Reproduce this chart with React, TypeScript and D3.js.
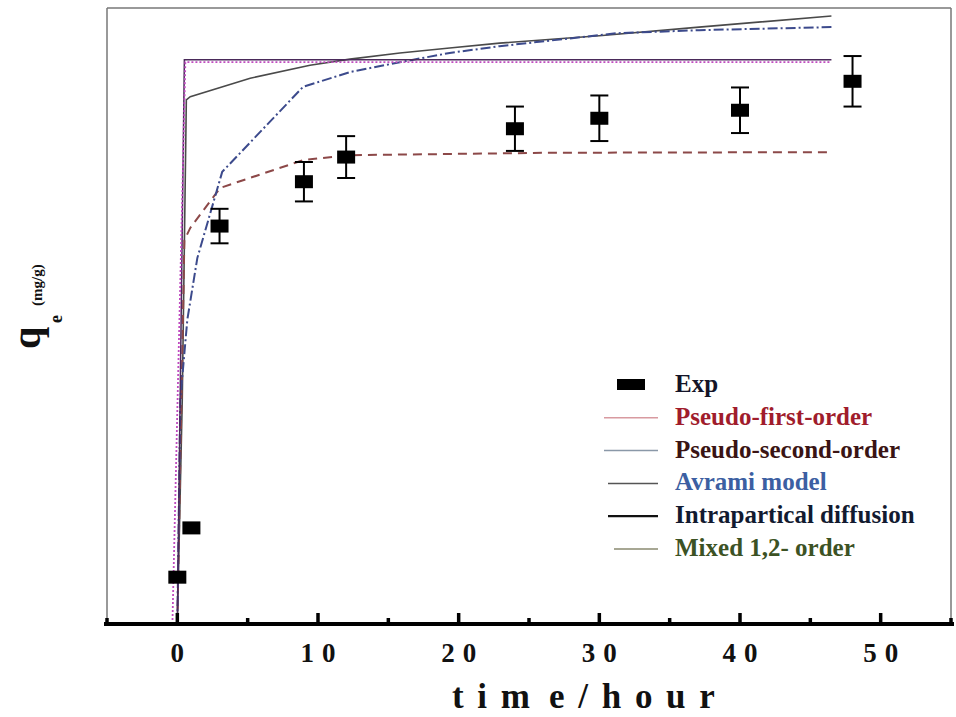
import React from 'react';
import * as d3 from 'd3';

const W = 956;
const H = 717;

// Experimental data (time in hours, q in arbitrary units 0-100)
const expTime = [0, 1, 3, 9, 12, 24, 30, 40, 48];
const expQ = [7.6, 15.6, 64.6, 71.8, 75.8, 80.4, 82.1, 83.4, 88.1];
const expErr = [0, 0, 2.8, 3.2, 3.4, 3.6, 3.7, 3.7, 4.1];

// Model curves
const pfoT = [0, 0.5, 0.92, 3.05, 8.94, 12.06, 26.45, 46.5];
const pfoQ = [0, 62.3, 64.3, 70.8, 75.3, 76.1, 76.5, 76.6];

const psoT = [0, 0.21, 0.71, 1.42, 3.19, 8.94, 12.27, 15.82, 19.36, 22.91, 31.2, 37.09, 46.5];
const psoQ = [0, 36.4, 49.4, 59.4, 73.4, 87.2, 89.6, 91.2, 92.7, 93.8, 95.9, 96.4, 96.9];

const intraT = [0, 0.35, 0.64, 0.92, 5.18, 9.43, 12.27, 15.82, 19.36, 22.91, 30.0, 37.09, 46.5];
const intraQ = [0, 36.4, 85.1, 85.6, 88.6, 90.7, 91.7, 92.7, 93.5, 94.3, 95.5, 96.9, 98.7];

const avramiT = [0, 0.5, 46.5];
const avramiQ = [0, 91.6, 91.6];

const mixedT = [-0.35, 0.57, 46.5];
const mixedQ = [0, 91.2, 91.2];

const xMajorTicks = [0, 10, 20, 30, 40, 50];
const xMinorTicks = [-5, 5, 15, 25, 35, 45, 55];

const legendLabels = ['Exp', 'Pseudo-first-order', 'Pseudo-second-order', 'Avrami model', 'Intrapartical diffusion', 'Mixed 1,2- order'];
const legendTextColors = ['#141428', '#a01c2c', '#3a1414', '#3c5fa2', '#121a30', '#3c5224'];
const legendLineColors = ['#000', '#d89aa0', '#8a98a8', '#555', '#111', '#8a8a70'];

const FONT = '"Liberation Serif", "Times New Roman", serif';

export default function App() {
  const x = d3.scaleLinear().domain([-5, 55]).range([107, 951]);
  const y = d3.scaleLinear().domain([0, 100]).range([624, 8]);

  const mk = (ts: number[], qs: number[]) =>
    d3.line<number>().x((_, i) => x(ts[i])).y((d) => y(d)).curve(d3.curveLinear)(qs) || '';

  return (
    <svg width={W} height={H} style={{ position: 'absolute', left: 0, top: 0, background: '#fff' }} fontFamily={FONT}>
      <rect x={0} y={0} width={W} height={H} fill="#fff" />
      {/* frame */}
      <line x1={107} y1={8} x2={951} y2={8} stroke="#777" strokeWidth={1.5} />
      <line x1={107} y1={8} x2={107} y2={624} stroke="#777" strokeWidth={1.5} />
      <line x1={951} y1={8} x2={951} y2={624} stroke="#777" strokeWidth={1.5} />

      {/* model curves */}
      <path d={mk(intraT, intraQ)} fill="none" stroke="#4a4a4a" strokeWidth={1.6} />
      <path d={mk(pfoT, pfoQ)} fill="none" stroke="#8c4848" strokeWidth={2} strokeDasharray="9 6" />
      <path d={mk(psoT, psoQ)} fill="none" stroke="#3c4a8c" strokeWidth={2} strokeDasharray="10 3 2 3" />
      <path d={mk(avramiT, avramiQ)} fill="none" stroke="#4a2a5a" strokeWidth={1.5} />
      <path d={mk(mixedT, mixedQ)} fill="none" stroke="#c04cc0" strokeWidth={1.8} strokeDasharray="2 2" />

      {/* exp points */}
      {expTime.map((t, i) => (
        <g key={i}>
          {expErr[i] > 0 && (
            <g stroke="#000" strokeWidth={2}>
              <line x1={x(t)} x2={x(t)} y1={y(expQ[i] - expErr[i])} y2={y(expQ[i] + expErr[i])} />
              <line x1={x(t) - 9} x2={x(t) + 9} y1={y(expQ[i] - expErr[i])} y2={y(expQ[i] - expErr[i])} />
              <line x1={x(t) - 9} x2={x(t) + 9} y1={y(expQ[i] + expErr[i])} y2={y(expQ[i] + expErr[i])} />
            </g>
          )}
          <rect x={x(t) - 9} y={y(expQ[i]) - 6.5} width={18} height={13} fill="#000" />
        </g>
      ))}

      {/* x axis */}
      <line x1={104} y1={624} x2={954} y2={624} stroke="#000" strokeWidth={4} />
      {xMajorTicks.map((t) => (
        <line key={'M' + t} x1={x(t)} x2={x(t)} y1={624} y2={613} stroke="#000" strokeWidth={3.5} />
      ))}
      {xMinorTicks.map((t) => (
        <line key={'m' + t} x1={x(t)} x2={x(t)} y1={624} y2={618} stroke="#000" strokeWidth={3.5} />
      ))}
      {xMajorTicks.map((t) => (
        <text key={'l' + t} x={x(t) + 4} y={662} textAnchor="middle" fontSize={27} fontWeight="bold" letterSpacing={8} fill="#111">
          {String(t)}
        </text>
      ))}
      <text x={452} y={708} fontSize={35} fontWeight="bold" letterSpacing={13.7} wordSpacing={-17} fill="#111">
        tim e/hour
      </text>

      {/* y label */}
      <text transform="translate(40,349) rotate(-90)" fontSize={40} fontWeight="bold" fill="#111">q</text>
      <text transform="translate(62,323) rotate(-90)" fontSize={18} fontWeight="bold" fill="#111">e</text>
      <text transform="translate(42,306) rotate(-90)" fontSize={15} fontWeight="bold" fill="#111">(mg/g)</text>

      {/* legend */}
      {legendLabels.map((lab, i) => {
        const cy = 384 + i * 32.8;
        return (
          <g key={lab}>
            {i === 0 ? (
              <rect x={617} y={cy - 5} width={28} height={11} fill="#000" />
            ) : (
              <line x1={604 + (i >= 3 ? 4 : 0) + (i === 5 ? 6 : 0)} x2={658} y1={cy + 1} y2={cy + 1}
                stroke={legendLineColors[i]} strokeWidth={i === 4 ? 2.2 : 1.5} />
            )}
            <text x={675} y={cy + 8} fontSize={25} fontWeight="bold" fill={legendTextColors[i]}>{lab}</text>
          </g>
        );
      })}
    </svg>
  );
}
